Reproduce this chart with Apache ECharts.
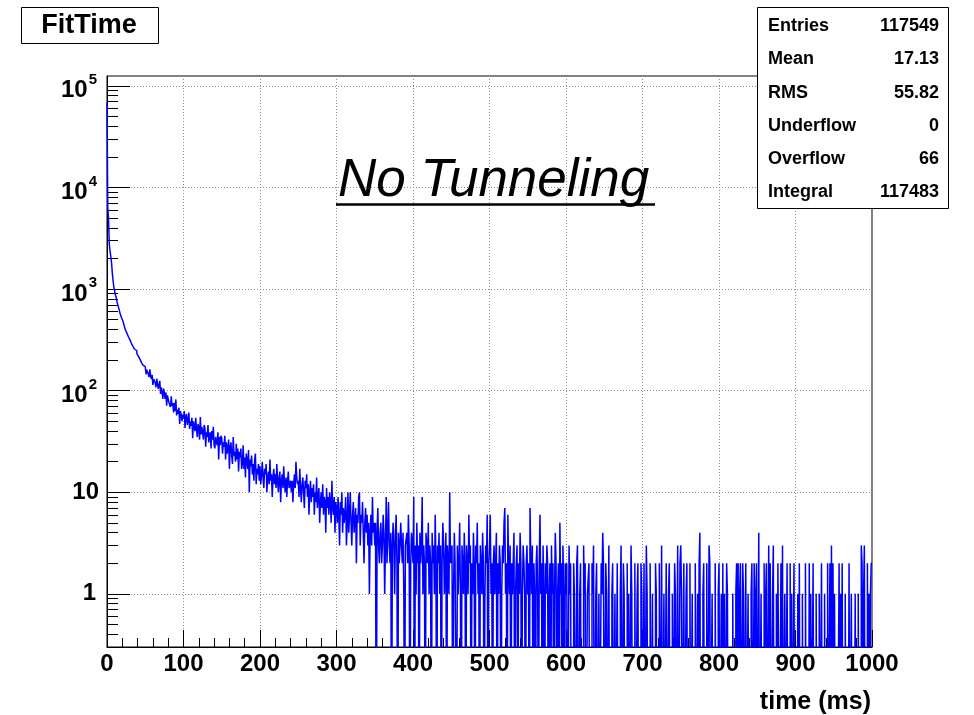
<!DOCTYPE html>
<html>
<head>
<meta charset="utf-8">
<title>FitTime</title>
<script src="https://cdn.jsdelivr.net/npm/echarts@6/dist/echarts.min.js"></script>
<style>
html, body { margin: 0; padding: 0; background: #fff; }
#chart { width: 974px; height: 715px; }
</style>
</head>
<body>
<div id="chart"></div>
<script>
// FitTime histogram, 1 ms bins from 0 to 1000 ms (counts)
const binWidth = 1;
const binCounts = [
  68000,6300,4900,2750,2350,2080,1790,1420,1200,1040,962,871,829,748,731,664,648,579,574,522,502,479,447,431,398,392,368,366,339,334,316,312,291,295,273,277,257,255,247,232,236,219,222,204,207,190,196,178,184,172,
  171,145,161,168,145,136,162,140,130,143,114,130,135,119,108,131,118,104,108,125,93,108,97,83,105,94,83,96,71,90,94,76,79,69,88,71,75,61,76,63,82,57,65,59,68,47,63,58,50,58,
  53,63,43,56,59,46,51,61,42,50,45,54,34,50,48,40,54,42,35,47,43,33,55,37,44,39,33,46,43,28,39,35,46,31,36,39,27,40,33,44,29,27,35,34,29,39,21,35,29,36,
  34,24,31,28,36,21,31,24,27,33,17,28,31,23,19,35,23,25,20,30,21,27,16,25,22,27,17,19,29,17,22,14,24,21,17,26,10,21,18,23,15,19,13,21,24,12,17,15,19,13,
  18,12,15,20,14,11,17,15,19,10,14,16,12,21,13,15,9,14,17,12,15,11,19,13,10,14,16,8,13,15,11,18,12,10,14,9,13,16,11,12,13,10,13,8,12,15,11,20,14,12,
  13,9,17,11,8,12,14,10,7,13,11,15,9,12,6,10,13,8,11,9,12,6,10,8,14,7,9,11,5,8,10,7,12,6,9,8,4,11,7,9,6,10,8,5,13,7,6,9,4,8,
  7,5,9,6,3,8,6,10,4,7,5,6,9,3,5,10,4,6,10,5,3,6,8,4,5,7,2,6,5,9,10,3,6,5,8,4,2,5,7,4,6,3,5,1,4,6,3,9,4,5,
  3,5,0,4,7,3,2,4,5,2,3,6,4,1,3,9,2,4,8,3,2,4,0,3,5,3,1,4,6,2,0,4,2,3,5,3,2,4,1,0,3,3,4,2,6,3,0,2,4,3,
  2,9,0,3,1,5,2,3,0,4,2,3,9,1,3,2,0,4,3,2,5,1,3,2,0,4,2,3,1,6,2,0,3,2,4,1,3,0,2,5,3,1,2,4,0,3,2,1,10,2,
  2,3,0,1,4,2,2,0,3,1,2,5,1,0,3,2,1,4,2,0,3,2,1,6,2,3,0,2,1,4,2,0,3,2,5,1,2,0,3,2,1,4,2,0,1,3,2,6,0,2,
  3,6,1,2,0,2,3,1,2,4,0,2,1,3,2,0,1,3,2,5,7,1,2,0,6,2,1,3,0,2,1,2,4,0,1,2,3,0,2,1,4,2,0,1,3,2,1,0,2,3,
  1,2,0,7,2,1,3,0,2,1,0,2,3,1,0,2,6,1,2,0,3,1,0,2,1,3,2,0,1,2,0,3,1,2,0,1,4,2,0,1,2,0,5,1,2,0,3,1,0,2,
  1,2,0,0,3,1,2,0,0,0,2,1,1,0,2,3,0,0,1,2,0,0,0,3,1,2,0,0,1,1,2,0,0,0,2,1,3,0,0,1,2,0,0,1,0,0,2,1,4,2,
  0,0,2,1,0,0,3,0,0,0,1,2,0,0,1,0,0,2,0,0,0,1,3,0,0,2,1,0,0,0,2,0,1,0,0,3,1,0,0,0,2,0,0,1,2,0,0,0,2,1,
  0,0,2,0,0,3,1,0,0,0,2,0,0,1,0,0,0,2,1,0,0,0,2,0,0,3,0,0,1,0,0,2,0,0,1,2,0,0,0,1,0,0,2,1,0,0,3,0,0,2,
  3,1,0,0,2,0,0,1,2,0,0,0,2,0,0,1,0,0,0,2,0,0,1,0,2,4,0,0,0,1,2,0,0,0,2,0,0,3,2,0,0,1,0,0,0,2,0,0,0,1,
  2,0,0,1,0,2,0,1,0,0,2,1,0,0,0,0,0,0,1,0,0,0,1,2,0,2,0,1,2,0,0,2,1,0,0,2,0,0,1,0,0,0,1,2,0,0,2,1,0,2,
  0,0,4,0,0,1,0,0,0,2,0,1,2,0,0,3,0,2,0,0,1,3,0,0,0,1,0,2,2,0,0,2,0,3,0,0,1,0,0,2,0,0,0,2,0,1,0,0,2,0,
  0,0,0,1,0,2,0,0,0,1,0,0,0,2,0,0,0,0,2,0,1,0,0,2,0,0,0,1,0,0,0,1,0,0,2,0,0,0,1,0,0,0,2,0,0,2,0,3,0,2,
  0,1,0,0,0,0,0,2,0,1,0,2,0,0,0,1,0,0,0,0,2,0,0,1,0,0,0,0,1,0,0,0,1,0,0,0,3,2,0,1,3,0,0,0,2,0,1,0,1,2
];
const statNames = ['Entries', 'Mean', 'RMS', 'Underflow', 'Overflow', 'Integral'];
const statValues = ['117549', '17.13', '55.82', '0', '66', '117483'];
const yMinorTicks = [
  0.4, 0.5, 0.6, 0.7, 0.8, 0.9,
  2, 3, 4, 5, 6, 7, 8, 9,
  20, 30, 40, 50, 60, 70, 80, 90,
  200, 300, 400, 500, 600, 700, 800, 900,
  2000, 3000, 4000, 5000, 6000, 7000, 8000, 9000,
  20000, 30000, 40000, 50000, 60000, 70000, 80000, 90000
];

const FONT = '"Liberation Sans", Arial, Helvetica, sans-serif';
const Y_MIN = 0.3, Y_MAX = 125000;

// empty bins sit below the log axis, so the step drops out of the frame
var steps = binCounts.map(function (c, i) { return [i * binWidth, c > 0 ? c : 0.01]; });
steps.push([binCounts.length * binWidth, steps[steps.length - 1][1]]);

var chart = echarts.init(document.getElementById('chart'), null, { renderer: 'canvas' });

var dotted = { color: '#8c8c8c', width: 1, type: [1, 2] };

var graphics = [
  {
    type: 'rect', shape: { x: 21.5, y: 7.5, width: 137, height: 36 },
    style: { fill: '#fff', stroke: '#000', lineWidth: 1 }, z: 10
  },
  {
    type: 'text', x: 89, y: 26, z: 11,
    style: { text: 'FitTime', font: 'bold 27px ' + FONT, fill: '#000', align: 'center', verticalAlign: 'middle' }
  },
  {
    type: 'text', x: 338, y: 181, z: 11,
    style: { text: 'No Tunneling', font: 'italic 53px ' + FONT, fill: '#000', align: 'left', verticalAlign: 'middle' }
  },
  {
    type: 'line', shape: { x1: 336, y1: 204.5, x2: 655, y2: 204.5 }, z: 11,
    style: { stroke: '#000', lineWidth: 2.5 }
  },
  {
    type: 'text', x: 871, y: 702, z: 11,
    style: { text: 'time (ms)', font: 'bold 25px ' + FONT, fill: '#000', align: 'right', verticalAlign: 'middle' }
  },
  {
    type: 'rect', shape: { x: 757.5, y: 7.5, width: 191, height: 201 },
    style: { fill: '#fff', stroke: '#000', lineWidth: 1 }, z: 10
  }
];
statNames.forEach(function (name, i) {
  var cy = 26 + i * 33.3;
  graphics.push({
    type: 'text', x: 768, y: cy, z: 12,
    style: { text: name, font: 'bold 18px ' + FONT, fill: '#000', align: 'left', verticalAlign: 'middle' }
  });
  graphics.push({
    type: 'text', x: 939, y: cy, z: 12,
    style: { text: statValues[i], font: 'bold 18px ' + FONT, fill: '#000', align: 'right', verticalAlign: 'middle' }
  });
});

var option = {
  animation: false,
  backgroundColor: '#fff',
  grid: {
    left: 107, right: 102, top: 76, bottom: 68,
    show: true, borderColor: '#000', borderWidth: 1, backgroundColor: 'transparent'
  },
  xAxis: {
    type: 'value', min: 0, max: 1000, interval: 100,
    axisLine: { show: true, onZero: false, lineStyle: { color: '#000', width: 1 } },
    axisTick: { show: true, inside: true, length: 17, lineStyle: { color: '#000' } },
    minorTick: { show: true, splitNumber: 5, length: 9, lineStyle: { color: '#000' } },
    axisLabel: {
      margin: 5, color: '#000', fontSize: 24, fontWeight: 'bold', fontFamily: FONT,
      formatter: function (v) { return String(v); }
    },
    splitLine: { show: true, lineStyle: dotted }
  },
  yAxis: [{
    type: 'log', logBase: 10, min: Y_MIN, max: Y_MAX,
    axisLine: { show: true, lineStyle: { color: '#000', width: 1 } },
    axisTick: { show: true, inside: true, length: 23, lineStyle: { color: '#000' } },
    axisLabel: {
      margin: 8, showMinLabel: false, showMaxLabel: false, color: '#000',
      formatter: function (v) {
        var p = Math.round(Math.log10(v));
        if (p === 0) return '{one|1}';
        if (p === 1) return '{ten|10}';
        return '{b|10}{s|' + p + '}';
      },
      rich: {
        one: { fontSize: 24, fontWeight: 'bold', fontFamily: FONT, color: '#000', padding: [0, 3, 0, 0] },
        ten: { fontSize: 24, fontWeight: 'bold', fontFamily: FONT, color: '#000' },
        b: { fontSize: 24, fontWeight: 'bold', fontFamily: FONT, color: '#000', padding: [10, 0, 0, 0] },
        s: { fontSize: 15, fontWeight: 'bold', fontFamily: FONT, color: '#000', padding: [0, 2, 12, 1] }
      }
    },
    splitLine: { show: true, lineStyle: dotted }
  }, {
    type: 'log', logBase: 10, min: Y_MIN, max: Y_MAX, position: 'left', offset: 0,
    axisLine: { show: false },
    axisLabel: { show: false },
    splitLine: { show: false },
    axisTick: { show: true, inside: true, length: 11, customValues: yMinorTicks, lineStyle: { color: '#000' } }
  }],
  series: [{
    name: 'FitTime',
    type: 'line',
    step: 'end',
    data: steps,
    yAxisIndex: 0,
    symbol: 'none',
    showSymbol: false,
    clip: true,
    lineStyle: { color: '#0000ff', width: 1.5 },
    z: 3
  }],
  graphic: graphics
};

chart.setOption(option);
</script>
</body>
</html>
